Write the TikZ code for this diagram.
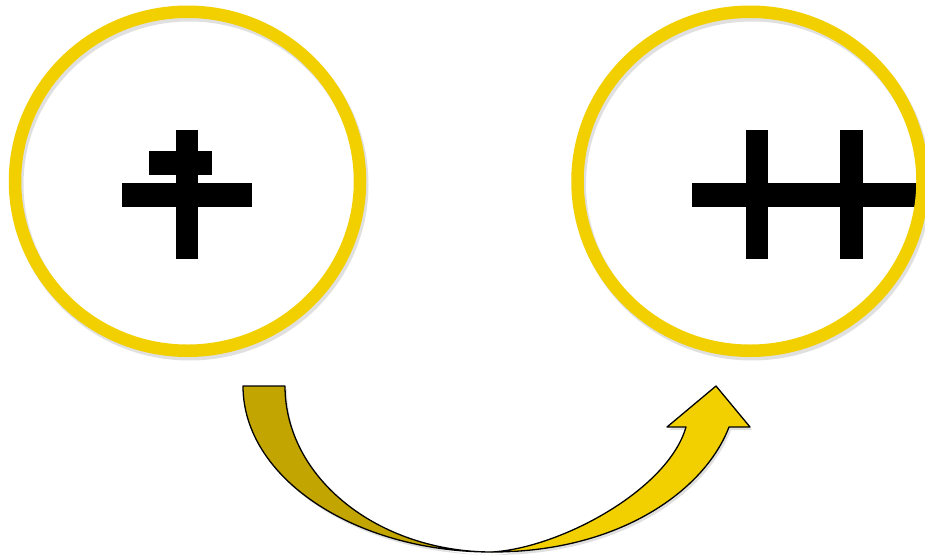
\documentclass[tikz,border=0pt]{standalone}
\usetikzlibrary{shapes.geometric}
\definecolor{ringyellow}{HTML}{F2D000}
\definecolor{arrowlight}{HTML}{F2D000}
\definecolor{arrowdark}{HTML}{C2A500}
\tikzset{
  ring/.style={ellipse, draw=ringyellow, line width=12.5pt, minimum width=345pt, minimum height=339pt, inner sep=0pt},
  ringshadow/.style={ellipse, draw=black, draw opacity=0.12, line width=13pt, minimum width=345pt, minimum height=339pt, inner sep=0pt},
  bar/.style={fill=black},
  arrowpart/.style={draw=black, line width=1.3pt, line join=round},
  arrowshadow/.style={fill=black, fill opacity=0.12}
}
\begin{document}
\begin{tikzpicture}[x=1pt,y=-1pt]
\useasboundingbox (0,0) rectangle (925,557);
% glyphs
\fill[bar] (175.7,130) rectangle (198.3,259.3);
\fill[bar] (149,150.7) rectangle (211.7,175);
\fill[bar] (121.7,182.7) rectangle (251.7,206.7);
\fill[bar] (691.7,182.7) rectangle (920,206.7);
\fill[bar] (745.7,130) rectangle (768.3,259.3);
\fill[bar] (840,130) rectangle (863.3,259.3);
% ring shadows
\node[ringshadow] at (189.5,184.5) {};
\node[ringshadow] at (752,184.5) {};
% rings
\node[ring] (left) at (187.5,181.25) {};
\node[ring] (right) at (750,181.25) {};
% arrow shadow
\begin{scope}[shift={(2,3)}]
\fill[arrowshadow] (243,386) -- (285,386) .. controls (285,477.7) and (377.7,552) .. (492,552)
  .. controls (560,548) and (668,490) .. (686,427) -- (667,427) -- (716,386) -- (750,427) -- (729,427)
  .. controls (705,490) and (620,552) .. (492,552) .. controls (354.5,552) and (243,477.7) .. (243,386) -- cycle;
\end{scope}
% arrow back part
\coordinate (tailL) at (243,386);
\coordinate (tailR) at (285,386);
\coordinate (bottom) at (492,552);
\draw[arrowpart, fill=arrowdark] (tailL) -- (tailR) .. controls (285,477.7) and (377.7,552) .. (bottom)
  .. controls (354.5,552) and (243,477.7) .. (tailL) -- cycle;
% arrow front part
\coordinate (neckL) at (686,427);
\coordinate (barbL) at (667,427);
\coordinate (tip) at (716,386);
\coordinate (barbR) at (750,427);
\coordinate (neckR) at (729,427);
\draw[arrowpart, fill=arrowlight] (bottom) .. controls (560,548) and (668,490) .. (neckL) -- (barbL) -- (tip) -- (barbR) -- (neckR)
  .. controls (705,490) and (620,552) .. (bottom) -- cycle;
\end{tikzpicture}
\end{document}
